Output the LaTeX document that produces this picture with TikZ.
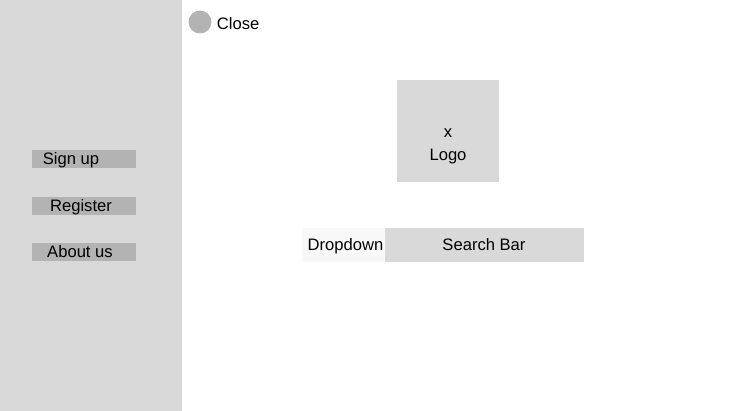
\documentclass[tikz,border=0pt]{standalone}
\usepackage{fontspec}
\setmainfont{Liberation Sans}
\usepackage{tikz}
\usetikzlibrary{positioning}
\definecolor{panelgray}{HTML}{D9D9D9}
\definecolor{btngray}{HTML}{B3B3B3}
\definecolor{dropgray}{HTML}{F8F8F8}
\tikzstyle{btnbox}=[rectangle,fill=btngray,minimum width=104pt,minimum height=18pt,inner sep=0pt]
\tikzstyle{lbl}=[inner sep=0pt,font=\fontsize{16.6}{19}\selectfont]
\tikzstyle{block}=[rectangle,fill=panelgray,inner sep=0pt]

\begin{document}
\begin{tikzpicture}[x=1pt,y=-1pt]
    \useasboundingbox (0,0) rectangle (731,411);
    % First we draw the side panel
    \node[block,minimum width=182pt,minimum height=411pt,anchor=north west] (panel) at (0,0) {};
    % Then the menu buttons
    \foreach \pos/\name/\tpos/\txt in {{(84,159)/signup/(71,160.5)/Sign up}, {(84,206)/register/(81,207.5)/Register}, {(84,252)/about/(80,251.5)/About us}}
    {
        \node[btnbox] (\name) at \pos {};
        \node[lbl] (\name txt) at \tpos {\txt};
    }
    % Close button
    \node[circle,fill=btngray,minimum size=23pt,inner sep=0pt] (closedot) at (200,22) {};
    \node[lbl,right=5pt of closedot,yshift=-1.5pt] (closetxt) {Close};
    % Logo
    \node[block,minimum width=102pt,minimum height=102pt] (logo) at (448,131) {};
    \node[lbl,align=center,font=\fontsize{16.6}{23}\selectfont] (logotxt) at (448,146) {x\\Logo};
    % Dropdown and search bar
    \node[rectangle,fill=dropgray,minimum width=83pt,minimum height=34pt,inner sep=0pt] (dropdown) at (343.5,245) {};
    \node[lbl] (droptxt) at (345.5,246.5) {Dropdown};
    \node[block,minimum width=199pt,minimum height=34pt,right=0pt of dropdown] (search) {};
    \node[lbl] (searchtxt) at (484,245) {Search Bar};
\end{tikzpicture}
\end{document}
